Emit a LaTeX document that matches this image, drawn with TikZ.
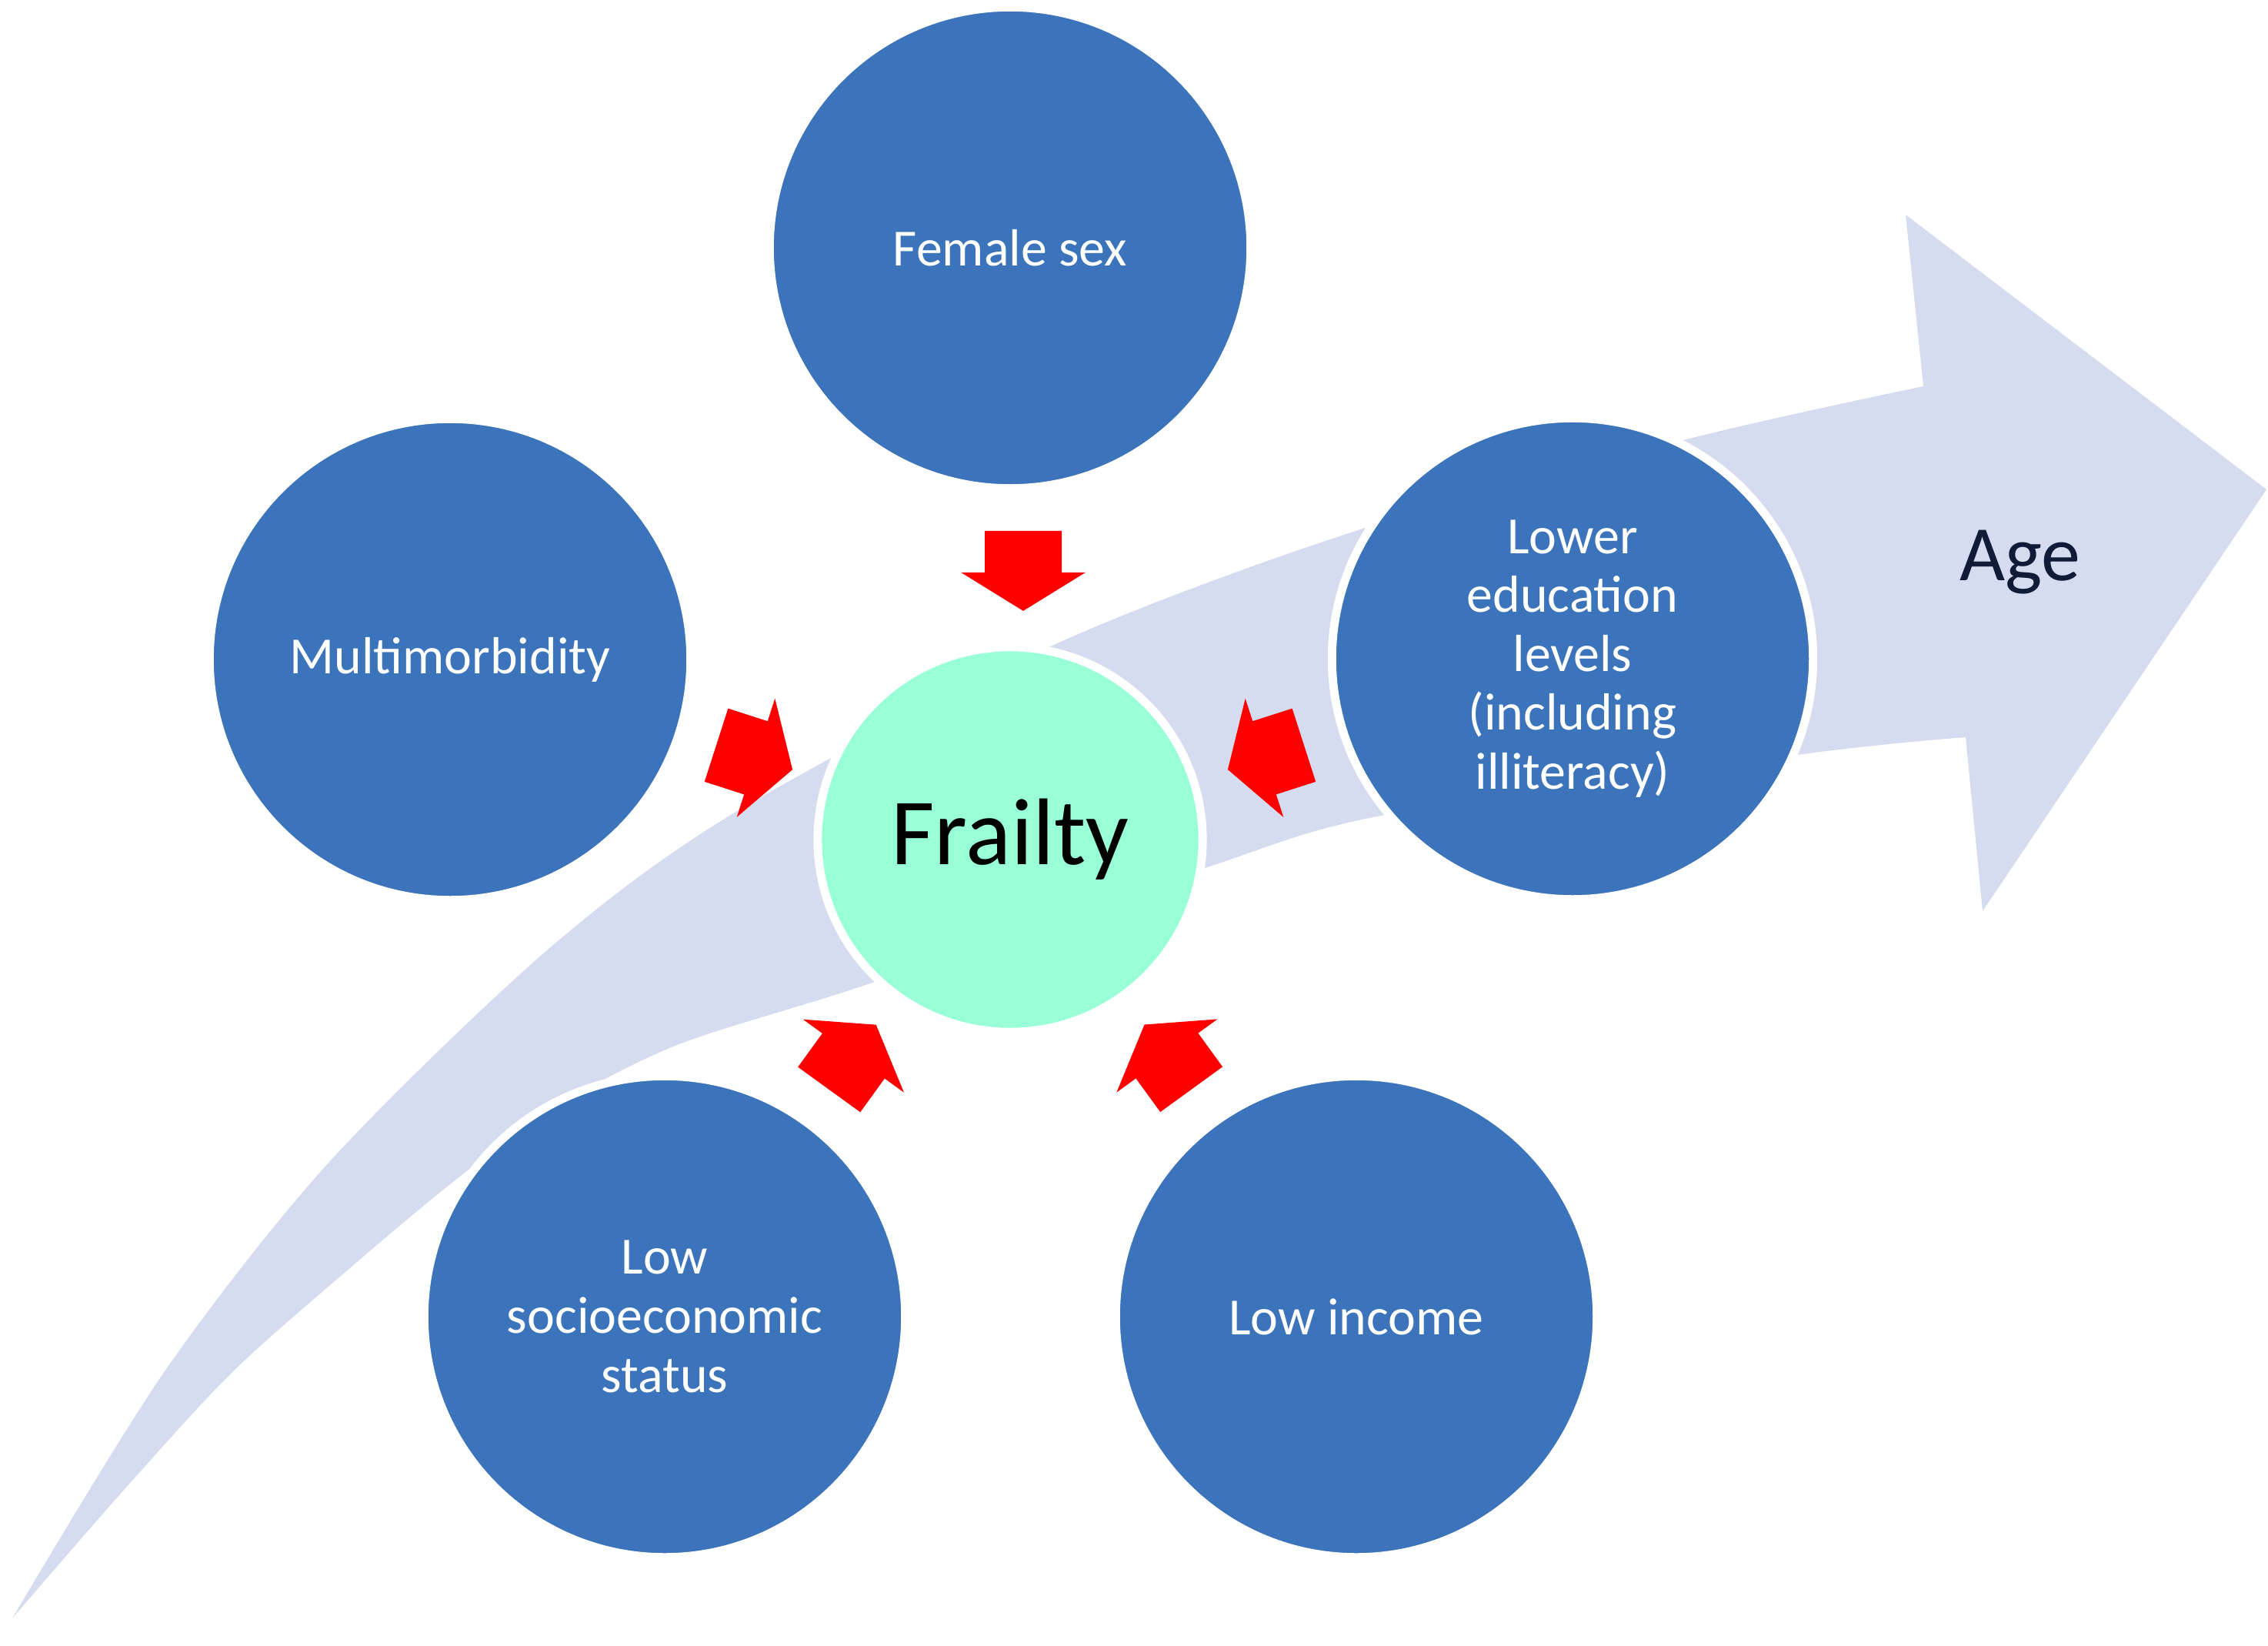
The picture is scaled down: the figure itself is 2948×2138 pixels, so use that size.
\documentclass[tikz,border=0pt]{standalone}
\usepackage{fontspec}
\setmainfont{Carlito}
\usetikzlibrary{calc}
\definecolor{circblue}{RGB}{60,116,188}
\definecolor{bandcol}{RGB}{214,220,239}
\definecolor{frailgreen}{RGB}{153,255,214}
\definecolor{agenavy}{RGB}{15,27,55}
\definecolor{arrowred}{RGB}{255,0,0}
\tikzset{
  factor/.style={circle, fill=circblue, draw=white, line width=3.1pt,
    minimum size=6.25cm, inner sep=0pt, text=white, align=center,
    font=\fontsize{19.3}{21.8}\selectfont},
  frail/.style={circle, fill=frailgreen, draw=white, line width=3.1pt,
    minimum size=5.0cm, inner sep=0pt, text=black,
    font=\fontsize{35}{40}\selectfont},
  agelabel/.style={text=agenavy, font=\fontsize{29}{34}\selectfont},
  pics/blockarrow/.style={code={
    \fill[arrowred] (0,0) -- (-50,81) -- (-50,50) -- (-104,50) -- (-104,-50)
      -- (-50,-50) -- (-50,-81) -- cycle;}}
}
\newcommand\factorarrow[2][0,0]{%
  \path let \p1=($(fr)-(#2)$), \n1={atan2(\y1,\x1)} in
    pic[rotate=\n1] at ($(fr)!2.97cm!(#2)+(#1)$) {blockarrow};}
\begin{document}
\begin{tikzpicture}[x=0.01cm, y=-0.01cm]
\useasboundingbox (0,0) rectangle (2948,2138);
% Age band arrow
\fill[bandcol]
  plot[smooth, tension=0.5] coordinates {(16,2103) (214,1782) (428,1510) (712,1234)
      (958,1054) (1372,837) (1765,689) (2200,569) (2500,502)}
  -- (2477,279) -- (2946,636) -- (2577,1184) -- (2555,958)
  -- plot[smooth, tension=0.5] coordinates {(2555,958) (2343,980) (1800,1059) (1566,1128)
      (1128,1279) (880,1358) (720,1440) (590,1535) (450,1652) (300,1785) (155,1943) (16,2103)}
  -- cycle;
\node[agelabel] (age) at (2626,731) {Age};
% nodes
\node[frail] (fr) at (1313,1091) {Frailty};
\node[factor] (fem) at (1313,322) {Female sex};
\node[factor] (multi) at (585,857) {Multimorbidity};
\node[factor] (edu) at (2044,856) {Lower\\education\\levels\\(including\\illiteracy)};
\node[factor] (socio) at (864,1711) {Low\\socioeconomic\\status};
\node[factor] (inc) at (1763,1711) {Low income};
% red block arrows
\factorarrow[17,0]{fem}
\factorarrow{multi}
\factorarrow{edu}
\factorarrow{socio}
\factorarrow{inc}
\end{tikzpicture}
\end{document}
